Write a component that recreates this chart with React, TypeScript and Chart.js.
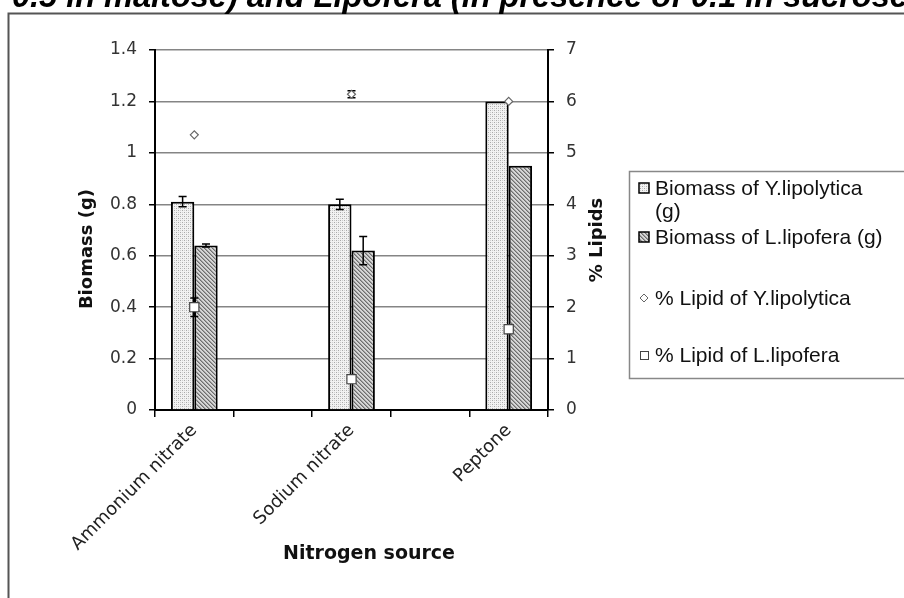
import React, { useEffect, useRef } from "react";
import { Chart, registerables } from "chart.js";
Chart.register(...registerables);

const categories = ["Ammonium nitrate", "", "Sodium nitrate", "", "Peptone"];
const biomassYl = [0.81, null, 0.8, null, 1.2];
const biomassYlErr = [0.02, null, 0.02, null, 0];
const biomassLl = [0.64, null, 0.62, null, 0.95];
const biomassLlErr = [0.006, null, 0.055, null, 0];
const lipidYl = [5.35, null, 6.14, null, 6.0];
const lipidYlErr = [0, null, 0.07, null, 0];
const lipidLl = [2.0, null, 0.6, null, 1.57];
const lipidLlErr = [0.18, null, 0, null, 0];

const seriesNames = [
  "Biomass of Y.lipolytica (g)",
  "Biomass of L.lipofera (g)",
  "% Lipid of Y.lipolytica",
  "% Lipid of L.lipofera",
];
const titleText = "0.5 in maltose) and Lipofera (in presence of 0.1 in sucrose)";
const xTitle = "Nitrogen source";
const yTitle = "Biomass (g)";
const y1Title = "% Lipids";

function makeDots(): CanvasPattern | string {
  const c = document.createElement("canvas");
  c.width = 4;
  c.height = 4;
  const g = c.getContext("2d");
  if (!g) return "#e0e0e0";
  g.fillStyle = "#f2f2f2";
  g.fillRect(0, 0, 4, 4);
  g.fillStyle = "#a9a9a9";
  g.fillRect(0, 0, 1, 1);
  g.fillRect(2, 2, 1, 1);
  g.fillStyle = "#cfcfcf";
  g.fillRect(0, 2, 1, 1);
  g.fillRect(2, 0, 1, 1);
  return g.createPattern(c, "repeat") || "#e0e0e0";
}

function makeHatch(): CanvasPattern | string {
  const c = document.createElement("canvas");
  c.width = 4;
  c.height = 4;
  const g = c.getContext("2d");
  if (!g) return "#a8a8a8";
  g.fillStyle = "#d6d6d6";
  g.fillRect(0, 0, 4, 4);
  g.fillStyle = "#6e6e6e";
  for (let i = 0; i < 4; i++) g.fillRect(i, i, 1, 1);
  g.fillStyle = "#a0a0a0";
  for (let i = 0; i < 4; i++) g.fillRect((i + 1) % 4, i, 1, 1);
  return g.createPattern(c, "repeat") || "#a8a8a8";
}

const errorsByDataset = [biomassYlErr, biomassLlErr, lipidYlErr, lipidLlErr];

function drawErr(chart: any, index: number) {
  const ds = chart.data.datasets[index];
  const errs = errorsByDataset[index];
  if (!errs) return;
  const meta = chart.getDatasetMeta(index);
  const scale = chart.scales[ds.yAxisID];
  const ctx = chart.ctx;
  ctx.save();
  ctx.strokeStyle = "#000";
  ctx.lineWidth = 1.5;
  meta.data.forEach((el: any, i: number) => {
    const v = ds.data[i];
    const e = errs[i];
    if (v == null || !e) return;
    const x = el.x;
    const yTop = scale.getPixelForValue(v + e);
    const yBot = scale.getPixelForValue(v - e);
    const cap = 4;
    ctx.beginPath();
    ctx.moveTo(x, yTop);
    ctx.lineTo(x, yBot);
    ctx.moveTo(x - cap, yTop);
    ctx.lineTo(x + cap, yTop);
    ctx.moveTo(x - cap, yBot);
    ctx.lineTo(x + cap, yBot);
    ctx.stroke();
  });
  ctx.restore();
}

export default function App() {
  const ref = useRef<HTMLCanvasElement | null>(null);
  useEffect(() => {
    if (!ref.current) return;
    const dots = makeDots();
    const hatch = makeHatch();
    const decor = {
      id: "decor",
      beforeDatasetDraw(chart: any, args: any) {
        if (args.index >= 2) drawErr(chart, args.index);
      },
      afterDatasetDraw(chart: any, args: any) {
        if (args.index < 2) drawErr(chart, args.index);
      },
      afterDraw(chart: any) {
        const ctx = chart.ctx;
        ctx.save();
        // outer frame
        ctx.strokeStyle = "#555";
        ctx.lineWidth = 2;
        ctx.beginPath();
        ctx.moveTo(8.5, 598);
        ctx.lineTo(8.5, 13.5);
        ctx.lineTo(904, 13.5);
        ctx.stroke();
        // title (clipped at top)
        ctx.fillStyle = "#000";
        ctx.font = "italic bold 32.5px 'Liberation Sans'";
        ctx.textAlign = "left";
        ctx.textBaseline = "alphabetic";
        ctx.fillText(titleText, 12, 7);
        // axis titles
        ctx.font = "bold 18px 'DejaVu Sans'";
        ctx.textAlign = "center";
        ctx.textBaseline = "middle";
        ctx.fillStyle = "#111";
        ctx.save();
        ctx.translate(87, 249);
        ctx.rotate(-Math.PI / 2);
        ctx.fillText(yTitle, 0, 0);
        ctx.restore();
        ctx.save();
        ctx.translate(597, 240);
        ctx.rotate(-Math.PI / 2);
        ctx.fillText(y1Title, 0, 0);
        ctx.restore();
        ctx.font = "bold 19px 'DejaVu Sans'";
        ctx.fillText(xTitle, 369, 554);
        // legend
        ctx.strokeStyle = "#888";
        ctx.lineWidth = 1.5;
        ctx.strokeRect(629.5, 171.5, 320, 207);
        ctx.font = "21px 'Liberation Sans'";
        ctx.textAlign = "left";
        ctx.fillStyle = "#111";
        const tx = 655;
        // item 1
        ctx.fillStyle = dots as any;
        ctx.fillRect(639, 183, 10, 10);
        ctx.strokeStyle = "#000";
        ctx.lineWidth = 1.5;
        ctx.strokeRect(639, 183, 10, 10);
        ctx.fillStyle = "#111";
        ctx.fillText("Biomass of Y.lipolytica", tx, 189);
        ctx.fillText("(g)", tx, 212);
        // item 2
        ctx.fillStyle = hatch as any;
        ctx.fillRect(639, 232, 10, 10);
        ctx.strokeRect(639, 232, 10, 10);
        ctx.fillStyle = "#111";
        ctx.fillText(seriesNames[1], tx, 238);
        // item 3 diamond
        ctx.fillStyle = "#fff";
        ctx.strokeStyle = "#666";
        ctx.lineWidth = 1;
        ctx.beginPath();
        ctx.moveTo(644, 294);
        ctx.lineTo(648, 298);
        ctx.lineTo(644, 302);
        ctx.lineTo(640, 298);
        ctx.closePath();
        ctx.fill();
        ctx.stroke();
        ctx.fillStyle = "#111";
        ctx.fillText(seriesNames[2], tx, 299);
        // item 4 square
        ctx.fillStyle = "#fff";
        ctx.strokeStyle = "#444";
        ctx.strokeRect(640.5, 351.5, 8, 8);
        ctx.fillStyle = "#111";
        ctx.fillText(seriesNames[3], tx, 356);
        ctx.restore();
      },
    };

    const tickFont = { family: "DejaVu Sans", size: 17 };
    const chart = new Chart(ref.current, {
      type: "bar",
      data: {
        labels: categories,
        datasets: [
          {
            type: "bar",
            label: seriesNames[0],
            data: biomassYl,
            yAxisID: "y",
            backgroundColor: dots as any,
            borderColor: "#000",
            borderWidth: 2,
            order: 2,
            categoryPercentage: 0.595,
            barPercentage: 1,
          },
          {
            type: "bar",
            label: seriesNames[1],
            data: biomassLl,
            yAxisID: "y",
            backgroundColor: hatch as any,
            borderColor: "#000",
            borderWidth: 2,
            order: 2,
            categoryPercentage: 0.595,
            barPercentage: 1,
          },
          {
            type: "line",
            label: seriesNames[2],
            data: lipidYl,
            yAxisID: "y1",
            showLine: false,
            pointStyle: "rectRot",
            pointRadius: 4,
            pointBackgroundColor: "#fff",
            pointBorderColor: "#666",
            pointBorderWidth: 1.2,
            order: 1,
          },
          {
            type: "line",
            label: seriesNames[3],
            data: lipidLl,
            yAxisID: "y1",
            showLine: false,
            pointStyle: "rect",
            pointRadius: 6.5,
            pointBackgroundColor: "#fff",
            pointBorderColor: "#444",
            pointBorderWidth: 1.2,
            order: 0,
          },
        ] as any,
      },
      options: {
        responsive: false,
        animation: false,
        devicePixelRatio: 1,
        layout: { padding: { top: 50, left: 0, right: 0, bottom: 0 } },
        plugins: { legend: { display: false }, title: { display: false }, tooltip: { enabled: false } },
        scales: {
          x: {
            offset: true,
            grid: {
              offset: true,
              drawOnChartArea: false,
              drawTicks: true,
              tickLength: 7,
              color: "#000",
              lineWidth: 1.5,
            },
            border: { color: "#000", width: 2 },
            ticks: {
              autoSkip: false,
              maxRotation: 45,
              minRotation: 45,
              font: { family: "DejaVu Sans", size: 18 },
              color: "#222",
              padding: 3,
            },
            afterFit: (s: any) => {
              s.height = 188;
            },
          },
          y: {
            position: "left",
            min: 0,
            max: 1.4,
            ticks: {
              stepSize: 0.2,
              font: tickFont,
              color: "#333",
              padding: 12,
              callback: (v: any) => String(Math.round(Number(v) * 10) / 10),
            },
            grid: { color: "#858585", lineWidth: 1.5, tickColor: "#000", tickLength: 6 },
            border: { color: "#000", width: 2 },
            afterFit: (s: any) => {
              s.width = 155;
            },
          },
          y1: {
            position: "right",
            min: 0,
            max: 7,
            ticks: { stepSize: 1, font: tickFont, color: "#333", padding: 12 },
            grid: { drawOnChartArea: false, tickColor: "#000", tickLength: 6, lineWidth: 1.5 },
            border: { color: "#000", width: 2 },
            afterFit: (s: any) => {
              s.width = 356;
            },
          },
        },
      } as any,
      plugins: [decor],
    });
    return () => chart.destroy();
  }, []);
  return (
    <div style={{ position: "absolute", left: 0, top: 0, width: 904, height: 598, background: "#fff" }}>
      <canvas ref={ref} width={904} height={598} style={{ display: "block" }} />
    </div>
  );
}
